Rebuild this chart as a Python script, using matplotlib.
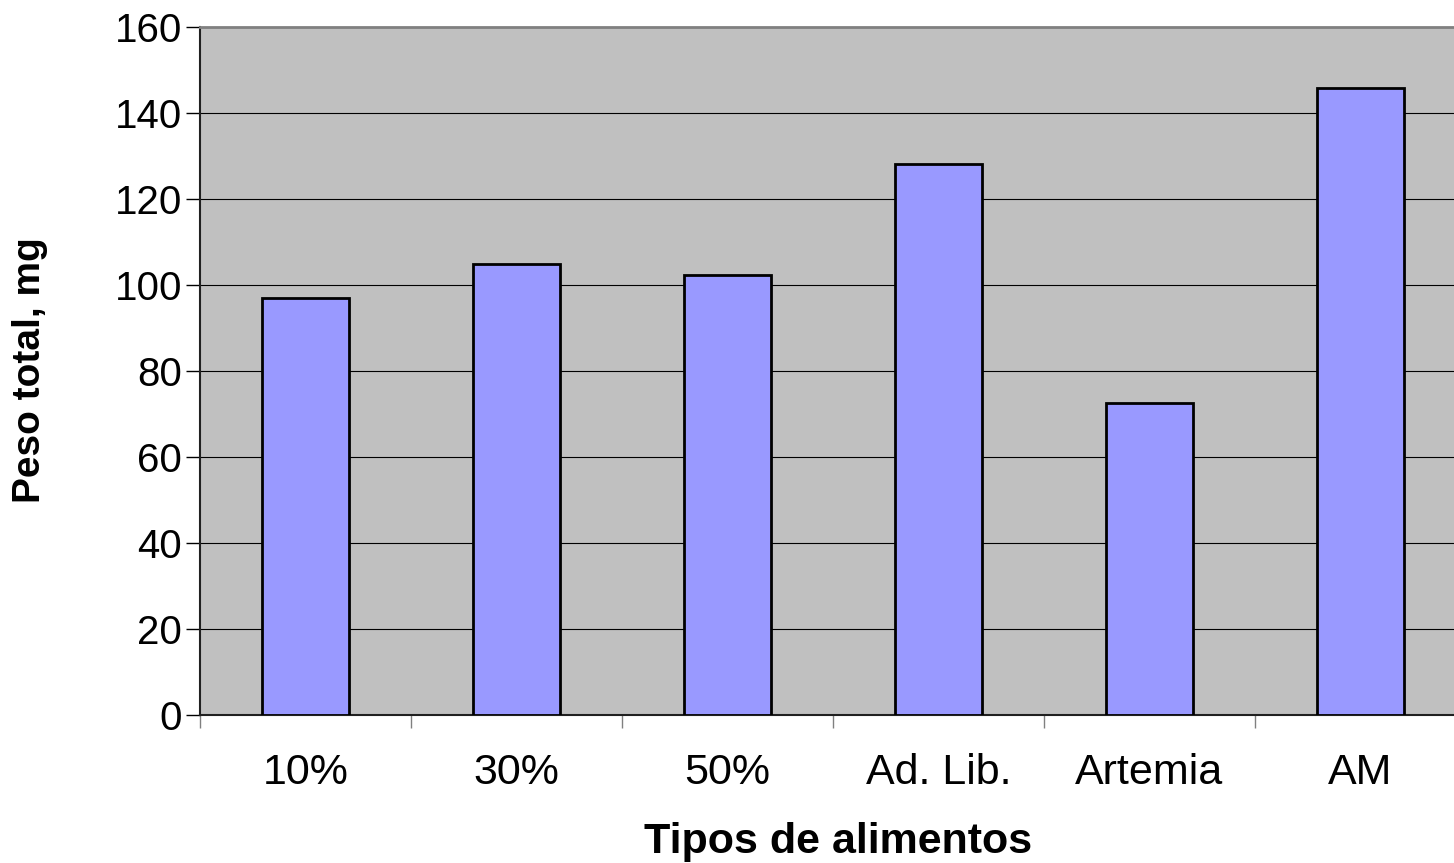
import numpy as np
import matplotlib.pyplot as plt

# Peso total por tipo de alimento
categorias = ['10%', '30%', '50%', 'Ad. Lib.', 'Artemia', 'AM']
peso_total = [97.0, 105.0, 102.3, 128.1, 72.6, 145.8]
yticks = [0, 20, 40, 60, 80, 100, 120, 140, 160]

plt.rcParams['font.family'] = ['Liberation Sans', 'DejaVu Sans']

W, H = 1454, 863
fig = plt.figure(figsize=(W / 100, H / 100), dpi=100)
# plot area runs a little past the right edge of the figure
ax = fig.add_axes([200 / W, 1 - 715 / H, 1266 / W, 688 / H])
ax.set_facecolor('#C0C0C0')

x = np.arange(len(categorias))
ax.bar(x, peso_total, width=0.41, color='#9999FF', edgecolor='black',
       linewidth=2, zorder=3)

ax.set_xlim(-0.5, len(categorias) - 0.5)
ax.set_ylim(0, 160)
ax.set_yticks(yticks)
ax.yaxis.grid(True, color='black', linewidth=0.8, zorder=1)
ax.set_axisbelow(True)

ax.set_xticks(x)
ax.set_xticklabels(categorias, fontsize=31)
ax.set_xticks(np.arange(len(categorias) + 1) - 0.5, minor=True)
ax.tick_params(axis='x', which='major', length=0, pad=27)
ax.tick_params(axis='x', which='minor', length=9, width=1, color='#808080',
               direction='out')
ax.tick_params(axis='y', labelsize=29, length=10, width=1, pad=3,
               direction='out')

for side in ('left', 'bottom'):
    ax.spines[side].set_color('#202020')
    ax.spines[side].set_linewidth(1.5)
ax.spines['top'].set_color('#808080')
ax.spines['top'].set_linewidth(2)
ax.spines['right'].set_visible(False)

fig.text(838 / W, 1 - 842 / H, 'Tipos de alimentos', fontsize=31,
         fontweight='bold', ha='center', va='center')
fig.text(30 / W, 1 - 370 / H, 'Peso total, mg', fontsize=28,
         fontweight='bold', ha='center', va='center', rotation=90)

fig.savefig('out.png', dpi=100)
